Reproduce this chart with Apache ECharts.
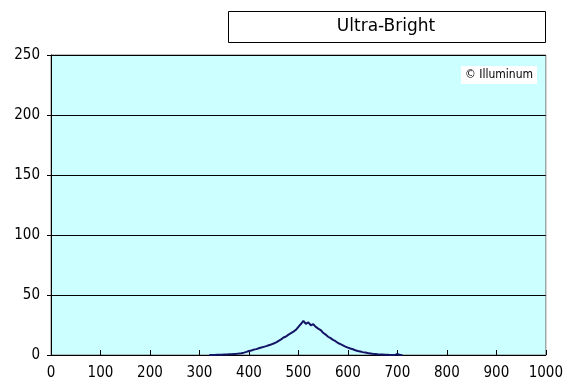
<!DOCTYPE html>
<html>
<head>
<meta charset="utf-8">
<script src="https://cdn.jsdelivr.net/npm/echarts@6/dist/echarts.min.js"></script>
<style>html,body{margin:0;padding:0;background:#fff;}#c{width:566px;height:387px;}</style>
</head>
<body>
<div id="c"></div>
<script>
var titleText = 'Ultra-Bright';
var watermarkText = '\u00A9 Illuminum';
var xTicks = [0, 100, 200, 300, 400, 500, 600, 700, 800, 900, 1000];
var yTicks = [0, 50, 100, 150, 200, 250];
var wavelengths = [320,325,330,335,340,345,350,355,360,365,370,375,380,385,390,395,400,405,410,415,420,425,430,435,440,445,450,455,460,465,470,475,480,485,490,495,500,505,510,515,520,525,530,535,540,545,550,555,560,565,570,575,580,585,590,595,600,605,610,615,620,625,630,635,640,645,650,655,660,665,670,675,680,685,690,695,700,705,710];
var intensity = [0,0,0.1,0.2,0.2,0.3,0.4,0.5,0.6,0.7,0.9,1.0,1.2,1.5,2.0,2.6,3.3,3.8,4.5,4.9,5.6,6.2,6.8,7.4,8.1,8.8,9.6,10.5,11.8,13.0,14.6,15.4,17.0,18.2,19.5,21.0,23.5,25.8,28.5,26.0,27.2,24.8,25.6,23.4,22.0,20.8,18.5,17.0,15.2,14.0,12.6,11.5,10.0,9.0,8.0,7.0,6.2,5.4,4.8,4.0,3.4,2.9,2.4,2.0,1.6,1.3,1.0,0.8,0.6,0.5,0.4,0.3,0.2,0.1,0,0.1,0.8,0.1,0];

var FONT = "'Liberation Sans Narrow', 'DejaVu Sans Condensed', 'Liberation Sans', sans-serif";
var TITLE_FONT = "'DejaVu Sans', sans-serif";
var data = wavelengths.map(function (w, i) { return [w, intensity[i]]; });

var chart = echarts.init(document.getElementById('c'), null, {renderer: 'canvas'});
chart.setOption({
  animation: false,
  backgroundColor: '#ffffff',
  grid: {
    left: 51, top: 55, right: 20, bottom: 32,
    show: true, backgroundColor: '#ccffff', borderColor: '#808080', borderWidth: 1
  },
  xAxis: {
    type: 'value', min: xTicks[0], max: xTicks[xTicks.length - 1], interval: 100,
    axisLine: {show: true, onZero: false, lineStyle: {color: '#000', width: 1}},
    axisTick: {show: true, inside: true, length: 5, lineStyle: {color: '#000'}},
    axisLabel: {color: '#000', fontSize: 15, fontFamily: FONT, margin: 11,
      formatter: function (v) { return String(v); }},
    splitLine: {show: false}
  },
  yAxis: {
    type: 'value', min: yTicks[0], max: yTicks[yTicks.length - 1], interval: 50,
    axisLine: {show: true, onZero: false, lineStyle: {color: '#000', width: 1}},
    axisTick: {show: true, inside: false, length: 4, lineStyle: {color: '#000'}},
    axisLabel: {color: '#000', fontSize: 15, fontFamily: FONT, margin: 11,
      formatter: function (v) { return String(v); }},
    splitLine: {show: true, lineStyle: {color: '#000', width: 1, type: 'solid'}}
  },
  series: [{
    type: 'line', data: data, showSymbol: false, smooth: false,
    lineStyle: {color: '#141466', width: 2}, z: 5
  }],
  graphic: [
    {
      type: 'rect', x: 228.5, y: 11.5,
      shape: {width: 317, height: 31},
      style: {fill: '#fff', stroke: '#000', lineWidth: 1}, z: 10
    },
    {
      type: 'text', x: 386, y: 27,
      style: {text: titleText, fill: '#000', font: '17px ' + TITLE_FONT,
        textAlign: 'center', textVerticalAlign: 'middle'}, z: 11
    },
    {
      type: 'rect', x: 461, y: 66,
      shape: {width: 76, height: 18},
      style: {fill: '#fff', stroke: null}, z: 10
    },
    {
      type: 'text', x: 499, y: 75,
      style: {text: watermarkText, fill: '#000', font: '12px ' + FONT,
        textAlign: 'center', textVerticalAlign: 'middle'}, z: 11
    }
  ]
});
</script>
</body>
</html>
